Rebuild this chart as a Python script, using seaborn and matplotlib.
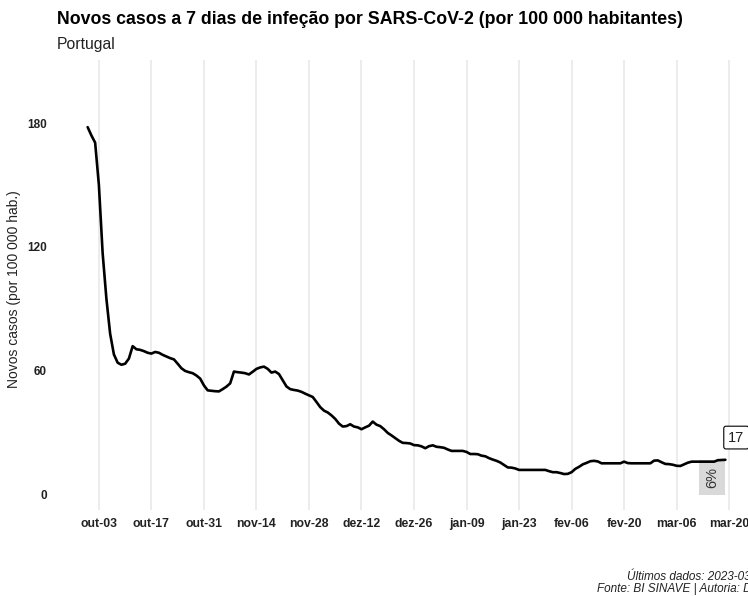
import numpy as np
import pandas as pd
import seaborn as sns
import matplotlib.pyplot as plt
import matplotlib.dates as mdates

# daily 7-day incidence per 100 000 (2022-09-30 .. 2023-03-19)
start_date = "2022-09-30"
casos = [
    178, 174, 170.5, 150, 117, 95, 78, 68, 64, 63,
    63.5, 66, 72, 70.5, 70.2, 69.6, 68.8, 68.4, 69.2, 68.8,
    67.8, 67, 66.2, 65.6, 63.5, 61.3, 60, 59.4, 58.9, 57.8,
    56.3, 53, 50.6, 50.4, 50.2, 50.1, 51.2, 52.4, 54, 59.7,
    59.4, 59.2, 58.9, 58.3, 59.6, 61, 61.7, 62.1, 61, 59.2,
    59.7, 58.5, 55.5, 52.5, 51.2, 50.8, 50.5, 49.9, 49, 48.2,
    47.4, 45, 42.5, 40.8, 39.9, 38.5, 36.8, 34.5, 33.1, 33.3,
    34.2, 33.1, 32.7, 31.8, 32.7, 33.5, 35.5, 34, 33.3, 31.8,
    30, 28.8, 27.5, 26.2, 25.2, 25.1, 24.9, 24.1, 24, 23.5,
    22.6, 23.6, 24, 23.3, 23.1, 22.8, 22, 21.3, 21.3, 21.3,
    21.3, 20.8, 19.8, 19.8, 19.7, 19, 18.7, 17.8, 17.1, 16.5,
    15.7, 14.5, 13.3, 13.2, 12.8, 12.1, 12.1, 12.1, 12.1, 12.1,
    12.1, 12.1, 12.1, 11.5, 11, 11, 10.6, 10.1, 10.2, 11,
    12.6, 13.6, 14.8, 15.5, 16.3, 16.5, 16.2, 15.3, 15.3, 15.3,
    15.3, 15.3, 15.3, 16.1, 15.4, 15.3, 15.3, 15.3, 15.3, 15.3,
    15.3, 16.6, 16.7, 15.8, 15, 14.9, 14.6, 14.1, 14, 14.8,
    15.6, 16.1, 16.1, 16.1, 16.1, 16.1, 16.1, 16.1, 16.8, 16.9,
    17,
]
datas = pd.date_range(start_date, periods=len(casos), freq="D")
df = pd.DataFrame({"data": datas, "casos": casos})

tick_dates = pd.date_range("2022-10-03", "2023-03-20", freq="14D")
tick_labels = ["out-03", "out-17", "out-31", "nov-14", "nov-28", "dez-12", "dez-26",
               "jan-09", "jan-23", "fev-06", "fev-20", "mar-06", "mar-20"]
y_ticks = [0, 60, 120, 180]
variacao = "6%"   # change over the last week

sns.set_theme(style="white")
plt.rcParams["font.family"] = ["Liberation Sans", "DejaVu Sans"]

fig = plt.figure(figsize=(7.48, 5.96), dpi=100)
ax = fig.add_axes([55 / 748, 1 - 510 / 596, (740 - 55) / 748, 450 / 596])

# grey box for the last week
ax.fill_between(df["data"].iloc[-8:], 0, df["casos"].iloc[-1], color="#d9d9d9", lw=0, zorder=1)
ax.text(df["data"].iloc[-5] + pd.Timedelta(hours=12), df["casos"].iloc[-1] / 2, variacao,
        rotation=90, ha="center", va="center", fontsize=10.5, color="#333333", zorder=2)

sns.lineplot(data=df, x="data", y="casos", color="black", linewidth=1.9, ax=ax, zorder=3)

ax.annotate(f"{df['casos'].iloc[-1]:.0f}", xy=(df["data"].iloc[-1], df["casos"].iloc[-1]),
            xytext=(2, 16), textcoords="offset points", ha="left", va="center",
            fontsize=10.5, color="#222222", annotation_clip=False,
            bbox=dict(boxstyle="round,pad=0.3,rounding_size=0.15", fc="white", ec="black", lw=0.8))

x0 = pd.Timestamp("2022-10-03")
ax.set_xlim(x0 + pd.Timedelta(days=-11.7), x0 + pd.Timedelta(days=170.9))
ax.set_ylim(-7.3, 210.5)

ax.set_xticks(tick_dates)
ax.set_xticklabels(tick_labels, fontsize=8.8, fontweight="bold", color="#222222")
ax.set_yticks(y_ticks)
ax.set_yticklabels([str(v) for v in y_ticks], fontsize=8.5, fontweight="bold", color="#222222")
ax.tick_params(axis="both", length=0, pad=6)
ax.grid(axis="x", color="#ebebeb", linewidth=1.3)
ax.grid(axis="y", visible=False)
ax.set_axisbelow(True)
for s in ax.spines.values():
    s.set_visible(False)

ax.set_xlabel("")
ax.set_ylabel("Novos casos (por 100 000 hab.)", fontsize=10, color="#222222")
ax.yaxis.set_label_coords(-34 / 685, (510 - 289) / 450)

fig.text(57 / 748, 1 - 20 / 596, "Novos casos a 7 dias de infeção por SARS-CoV-2 (por 100 000 habitantes)",
         fontsize=12.8, fontweight="bold", va="center", ha="left", color="black")
fig.text(57 / 748, 1 - 44 / 596, "Portugal", fontsize=11.3, va="center", ha="left", color="#222222")

fig.text(627 / 748, 1 - 577 / 596, "Últimos dados: 2023-03-20", fontsize=8.5, style="italic",
         va="center", ha="left", color="#222222")
fig.text(597 / 748, 1 - 589 / 596, "Fonte: BI SINAVE | Autoria: DSSG", fontsize=8.5, style="italic",
         va="center", ha="left", color="#222222")

fig.savefig("out.png", dpi=100)
